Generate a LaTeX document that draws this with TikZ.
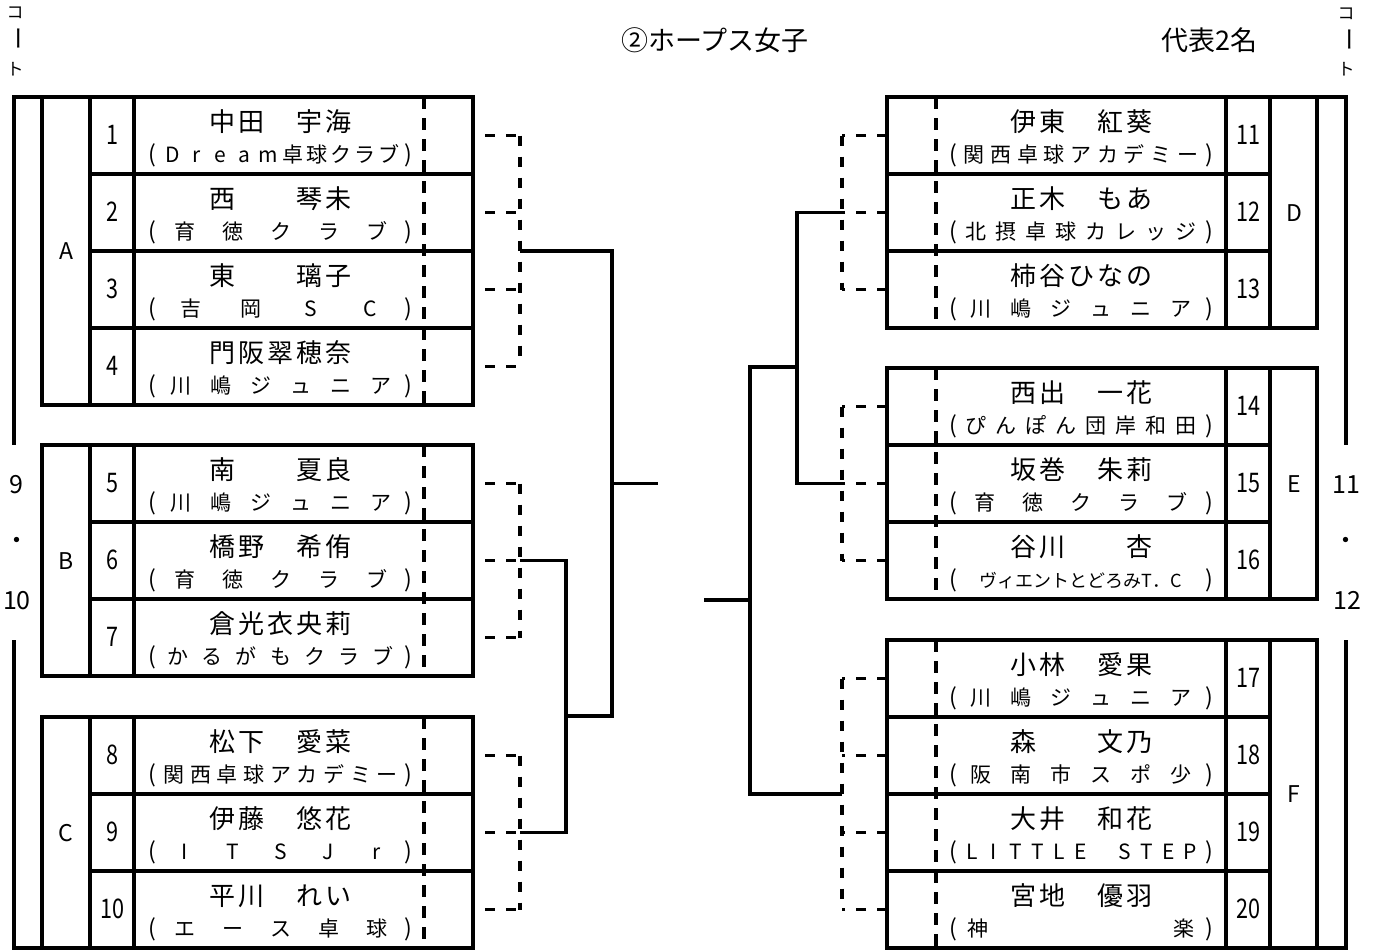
\documentclass[tikz,border=0pt]{standalone}
\usepackage{fontspec}
\usepackage{graphicx}
\setmainfont{Noto Sans CJK JP}
\newcommand\vtc{\fontsize{18}{20}\selectfont ヴィエントとどろみT．C}
\newcommand\prow[7]{% #1 id, #2 number x, #3 centre x, #4 row top, #5 name slots, #6 club count, #7 club chars
  \node[num] (no#1) at (#2,#4+47.5) {\scalebox{0.8}[1]{#1}};
  \foreach \t [count=\k] in {#5} {\node[nm] (nm#1-\k) at ({#3+(\k-3)*29},#4+34) {\t};}
  \node[par] (lp#1) at (#3-128,#4+65.5) {(};
  \node[par] (rp#1) at (#3+128,#4+65.5) {)};
  \foreach \t [count=\k] in {#7} {\node[cl] (cl#1-\k) at ({#3-120+(\k-0.5)*240/#6},#4+65.5) {\t};}
}
\newcommand\lgrp[3]{%
  \draw[ln] (42,#1) rectangle (473,#2);
  \draw[ln] (90,#1) -- (90,#2) (134,#1) -- (134,#2);
  \foreach \y in {#3} \draw[ln] (90,\y) -- (473,\y);
  \draw[dt] (424,#1) -- (424,#2);
}
\newcommand\rgrp[3]{%
  \draw[ln] (887,#1) rectangle (1317,#2);
  \draw[ln] (1226,#1) -- (1226,#2) (1270,#1) -- (1270,#2);
  \foreach \y in {#3} \draw[ln] (887,\y) -- (1270,\y);
  \draw[dt] (936,#1) -- (936,#2);
}
\begin{document}
\begin{tikzpicture}[x=1pt,y=-1pt,
  ln/.style={line width=3.2pt},
  dl/.style={line width=3.2pt, dash pattern=on 10pt off 11pt},
  dt/.style={line width=3.2pt, dash pattern=on 12pt off 9pt},
  nm/.style={anchor=base, inner sep=0pt, font=\fontsize{26}{30}\selectfont},
  cl/.style={anchor=base, inner sep=0pt, font=\fontsize{21}{24}\selectfont},
  par/.style={anchor=base, inner sep=0pt, font=\fontsize{23}{26}\selectfont},
  num/.style={anchor=base, inner sep=0pt, font=\fontsize{27}{30}\selectfont},
  grp/.style={anchor=base, inner sep=0pt, font=\fontsize{23}{26}\selectfont},
  ttl/.style={inner sep=0pt, font=\fontsize{27}{30}\selectfont},
  crt/.style={inner sep=0pt, font=\fontsize{17}{20}\selectfont},
  crtb/.style={inner sep=0pt, font=\fontsize{24}{26}\selectfont},
  cnum/.style={anchor=base, inner sep=0pt, font=\fontsize{25}{28}\selectfont},
]
\useasboundingbox[fill=white] (0,0) rectangle (1378,950);

% titles
\node[ttl] (title) at (715,40) {②ホープス女子};
\node[ttl] (rep) at (1209,40) {代表2名};

% court labels
\node[crt] (lk1) at (15,12.5) {コ};
\node[crtb,rotate=-90] (lk2) at (15,38.5) {ー};
\node[crt] (lk3) at (15,69) {ト};
\node[crt] (rk1) at (1346,13.5) {コ};
\node[crtb,rotate=-90] (rk2) at (1346,39.5) {ー};
\node[crt] (rk3) at (1346,69) {ト};
\node[cnum] (lc1) at (16,493) {9};
\node[cnum] (lc2) at (17,549) {・};
\node[cnum] (lc3) at (17,609) {10};
\node[cnum] (rc1) at (1346,493) {11};
\node[cnum] (rc2) at (1346,549) {・};
\node[cnum] (rc3) at (1347,609) {12};

% outer court frames
\draw[ln] (42,97) -- (14,97) -- (14,445);
\draw[ln] (14,640) -- (14,948) -- (42,948);
\draw[ln] (1317,97) -- (1346,97) -- (1346,445);
\draw[ln] (1346,640) -- (1346,948) -- (1317,948);

% left groups
\lgrp{97}{405}{174,251,328}
\lgrp{445}{676}{522,599}
\lgrp{717}{948}{794,871}
% right groups
\rgrp{97}{328}{174,251}
\rgrp{368}{599}{445,522}
\rgrp{640}{948}{717,794,871}

% group letters
\node[grp] (gA) at (66,259.5) {A};
\node[grp] (gB) at (66,569) {B};
\node[grp] (gC) at (66,841) {C};
\node[grp] (gD) at (1294,221) {D};
\node[grp] (gE) at (1294,492) {E};
\node[grp] (gF) at (1294,802.5) {F};

% left rows
\prow{1}{112}{280.5}{97}{中,田,{},宇,海}{10}{D,r,e,a,m,卓,球,ク,ラ,ブ}
\prow{2}{112}{280.5}{174}{西,{},{},琴,未}{5}{育,徳,ク,ラ,ブ}
\prow{3}{112}{280.5}{251}{東,{},{},璃,子}{4}{吉,岡,S,C}
\prow{4}{112}{280.5}{328}{門,阪,翠,穂,奈}{6}{川,嶋,ジ,ュ,ニ,ア}
\prow{5}{112}{280.5}{445}{南,{},{},夏,良}{6}{川,嶋,ジ,ュ,ニ,ア}
\prow{6}{112}{280.5}{522}{橋,野,{},希,侑}{5}{育,徳,ク,ラ,ブ}
\prow{7}{112}{280.5}{599}{倉,光,衣,央,莉}{7}{か,る,が,も,ク,ラ,ブ}
\prow{8}{112}{280.5}{717}{松,下,{},愛,菜}{9}{関,西,卓,球,ア,カ,デ,ミ,ー}
\prow{9}{112}{280.5}{794}{伊,藤,{},悠,花}{5}{I,T,S,J,r}
\prow{10}{112}{280.5}{871}{平,川,{},れ,い}{5}{エ,ー,ス,卓,球}
% right rows
\prow{11}{1248}{1081}{97}{伊,東,{},紅,葵}{9}{関,西,卓,球,ア,カ,デ,ミ,ー}
\prow{12}{1248}{1081}{174}{正,木,{},も,あ}{8}{北,摂,卓,球,カ,レ,ッ,ジ}
\prow{13}{1248}{1081}{251}{柿,谷,ひ,な,の}{6}{川,嶋,ジ,ュ,ニ,ア}
\prow{14}{1248}{1081}{368}{西,出,{},一,花}{8}{ぴ,ん,ぽ,ん,団,岸,和,田}
\prow{15}{1248}{1081}{445}{坂,巻,{},朱,莉}{5}{育,徳,ク,ラ,ブ}
\prow{16}{1248}{1081}{522}{谷,川,{},{},杏}{1}{\vtc}
\prow{17}{1248}{1081}{640}{小,林,{},愛,果}{6}{川,嶋,ジ,ュ,ニ,ア}
\prow{18}{1248}{1081}{717}{森,{},{},文,乃}{6}{阪,南,市,ス,ポ,少}
\prow{19}{1248}{1081}{794}{大,井,{},和,花}{11}{L,I,T,T,L,E,{},S,T,E,P}
\prow{20}{1248}{1081}{871}{宮,地,{},優,羽}{7}{神,{},{},{},{},{},楽}

% left dashed brackets
\foreach \y in {135.5,212.5,289.5,366.5,483.5,560.5,637.5,755.5,832.5,909.5}
  \draw[dl] (485,\y) -- (520,\y);
\draw[dl] (520,135.5) -- (520,366.5);
\draw[dl] (520,483.5) -- (520,637.5);
\draw[dl] (520,755.5) -- (520,909.5);
% right dashed brackets
\foreach \y in {135.5,212.5,289.5,406.5,483.5,560.5,678.5,755.5,832.5,909.5}
  \draw[dl] (887,\y) -- (842,\y);
\draw[dl] (842,135.5) -- (842,289.5);
\draw[dl] (842,406.5) -- (842,560.5);
\draw[dl] (842,678.5) -- (842,909.5);

% left solid bracket
\coordinate (LA) at (520,251);
\coordinate (LB) at (520,560.5);
\coordinate (LC) at (520,832.5);
\coordinate (LF) at (658,483.5);
\draw[ln] (LA) -- (612,251) -- (612,716) -- (566,716);
\draw[ln] (LB) -- (566,560.5) -- (566,832.5) -- (LC);
\draw[ln] (612,483.5) -- (LF);
% right solid bracket
\coordinate (RD) at (842,212.5);
\coordinate (RE) at (842,483.5);
\coordinate (RFm) at (842,794);
\coordinate (RF) at (704,600);
\draw[ln] (RD) -- (797,212.5) -- (797,483.5) -- (RE);
\draw[ln] (797,367) -- (750,367) -- (750,794) -- (RFm);
\draw[ln] (750,600) -- (RF);
\end{tikzpicture}
\end{document}
